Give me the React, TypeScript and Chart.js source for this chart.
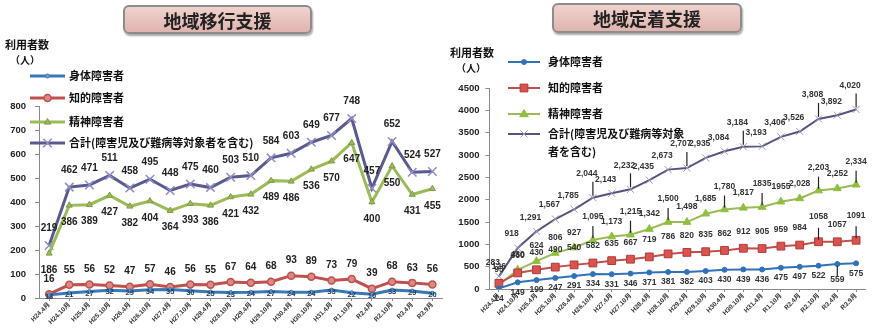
import React, { useEffect, useRef } from "react";
import { Chart, registerables } from "chart.js";

Chart.register(...registerables);

// ---------- DATA ----------
const LABELS = [
  "H24.4月", "H24.10月", "H25.4月", "H25.10月", "H26.4月", "H26.10月", "H27.4月", "H27.10月",
  "H28.4月", "H28.10月", "H29.4月", "H29.10月", "H30.4月", "H30.10月", "H31.4月", "R1.10月",
  "R2.4月", "R2.10月", "R3.4月", "R3.9月",
];

const SERIES_NAMES = ["身体障害者", "知的障害者", "精神障害者", "合計(障害児及び難病等対象者を含む)"];

// 地域移行支援
const IKOU_SHINTAI = [13, 21, 27, 32, 29, 34, 35, 30, 25, 23, 24, 27, 24, 24, 33, 22, 16, 33, 29, 20];
const IKOU_CHITEKI = [16, 55, 56, 52, 47, 57, 46, 56, 55, 67, 64, 68, 93, 89, 73, 79, 39, 68, 63, 56];
const IKOU_SEISHIN = [186, 386, 389, 427, 382, 404, 364, 393, 386, 421, 432, 489, 486, 536, 570, 647, 400, 550, 431, 455];
const IKOU_TOTAL = [219, 462, 471, 511, 458, 495, 448, 475, 460, 503, 510, 584, 603, 649, 677, 748, 457, 652, 524, 527];
const IKOU_TICKS = { min: 0, max: 800, step: 100 };

// 地域定着支援
const TEICHAKU_SHINTAI = [14, 149, 199, 247, 291, 334, 331, 346, 371, 381, 382, 403, 430, 439, 436, 475, 497, 522, 559, 575];
const TEICHAKU_CHITEKI = [126, 360, 430, 490, 540, 582, 635, 667, 719, 786, 820, 835, 862, 912, 905, 959, 984, 1058, 1057, 1091];
const TEICHAKU_SEISHIN = [95, 430, 624, 806, 927, 1095, 1173, 1215, 1342, 1500, 1498, 1685, 1780, 1817, 1835, 1955, 2028, 2203, 2252, 2334];
const TEICHAKU_TOTAL = [283, 918, 1291, 1567, 1785, 2044, 2143, 2232, 2435, 2673, 2707, 2935, 3084, 3184, 3193, 3406, 3526, 3808, 3892, 4020];
const TEICHAKU_TICKS = { min: 0, max: 4500, step: 500 };
const NO_COMMA_VALUES = [1835, 1955];

// indices of labels that have a leader (callout) line in 地域定着支援
const CALLOUT_TOTAL = [5, 7, 10, 13, 17, 19];
const CALLOUT_SEISHIN = [5, 7, 9, 12, 14, 17, 19];
const CALLOUT_CHITEKI = [17, 19];
const CALLOUT_SHINTAI = [18];

// ---------- HELPERS ----------
const CJK = "'Noto Sans CJK JP', 'Noto Sans', sans-serif";
const NUM = "'Liberation Sans', 'Noto Sans CJK JP', sans-serif";

const comma = (v: number) => (NO_COMMA_VALUES.includes(v) ? String(v) : v.toLocaleString("en-US"));

function drawMarker(ctx: CanvasRenderingContext2D, style: string, x: number, y: number, r: number, fill: string, stroke: string, lw: number) {
  ctx.save();
  ctx.fillStyle = fill;
  ctx.strokeStyle = stroke;
  ctx.lineWidth = lw;
  ctx.beginPath();
  if (style === "circle") {
    ctx.arc(x, y, r, 0, Math.PI * 2);
    ctx.fill();
    ctx.stroke();
  } else if (style === "rect") {
    const s = r * Math.SQRT1_2;
    ctx.rect(x - s, y - s, 2 * s, 2 * s);
    ctx.fill();
    ctx.stroke();
  } else if (style === "triangle") {
    ctx.moveTo(x, y - r);
    ctx.lineTo(x + r * 0.95, y + r * 0.6);
    ctx.lineTo(x - r * 0.95, y + r * 0.6);
    ctx.closePath();
    ctx.fill();
    ctx.stroke();
  } else if (style === "crossRot") {
    const s = r * Math.SQRT1_2;
    ctx.moveTo(x - s, y - s);
    ctx.lineTo(x + s, y + s);
    ctx.moveTo(x - s, y + s);
    ctx.lineTo(x + s, y - s);
    ctx.stroke();
  }
  ctx.restore();
}

const valueLabelPlugin = {
  id: "valueLabels",
  afterDatasetsDraw(chart: any) {
    const ctx = chart.ctx;
    chart.data.datasets.forEach((ds: any, di: number) => {
      const cfg = ds.valueLabel;
      if (!cfg) return;
      const meta = chart.getDatasetMeta(di);
      ctx.save();
      ctx.font = cfg.font;
      ctx.fillStyle = cfg.color;
      ctx.textAlign = "center";
      ctx.textBaseline = "middle";
      meta.data.forEach((pt: any, i: number) => {
        const v = ds.data[i];
        const txt = cfg.format ? cfg.format(v) : String(v);
        const callouts: number[] = cfg.callouts || [];
        if (callouts.includes(i)) {
          const dir = cfg.dy < 0 ? -1 : 1;
          const len = cfg.calloutLen || 12;
          ctx.save();
          ctx.strokeStyle = "#222";
          ctx.lineWidth = 1.2;
          ctx.beginPath();
          ctx.moveTo(pt.x, pt.y + dir * 2);
          ctx.lineTo(pt.x, pt.y + dir * (2 + len));
          ctx.stroke();
          ctx.restore();
          ctx.fillText(txt, pt.x + cfg.dx, pt.y + cfg.dy + dir * (len - 4));
        } else {
          ctx.fillText(txt, pt.x + cfg.dx, pt.y + cfg.dy);
        }
      });
      ctx.restore();
    });
  },
};

const legendPlugin = {
  id: "customLegend",
  afterDraw(chart: any, _args: any, opts: any) {
    if (!opts || !opts.items) return;
    const ctx = chart.ctx;
    chart.data.datasets.forEach((ds: any, i: number) => {
      const y = opts.ys[i];
      ctx.save();
      ctx.strokeStyle = ds.borderColor;
      ctx.lineWidth = ds.borderWidth;
      ctx.beginPath();
      ctx.moveTo(opts.x0, y);
      ctx.lineTo(opts.x1, y);
      ctx.stroke();
      ctx.restore();
      drawMarker(ctx, ds.pointStyle, (opts.x0 + opts.x1) / 2, y, ds.pointRadius, ds.pointBackgroundColor, ds.pointBorderColor, ds.pointBorderWidth);
      ctx.save();
      ctx.font = opts.font;
      ctx.fillStyle = opts.color;
      ctx.textAlign = "left";
      ctx.textBaseline = "middle";
      const lines: string[] = opts.items[i];
      lines.forEach((t, k) => ctx.fillText(t, opts.textX, y + k * opts.lineH));
      ctx.restore();
    });
  },
};

function makeConfig(p: any) {
  const mk = (name: string, data: number[], s: any) => ({
    label: name,
    data,
    borderColor: s.color,
    borderWidth: s.width,
    pointStyle: s.point,
    pointRadius: s.r,
    pointBackgroundColor: s.fill,
    pointBorderColor: s.stroke,
    pointBorderWidth: s.pw,
    tension: 0,
    valueLabel: s.label,
  });
  return {
    type: "line",
    data: {
      labels: LABELS,
      datasets: p.series.map((s: any, i: number) => mk(SERIES_NAMES[i], s.data, s)),
    },
    options: {
      responsive: false,
      animation: false,
      devicePixelRatio: 1,
      layout: { padding: { top: p.padTop, left: 0, right: p.padRight, bottom: 0 } },
      plugins: {
        legend: { display: false },
        tooltip: { enabled: false },
        title: { display: false },
        customLegend: p.legend,
      },
      scales: {
        x: {
          type: "category",
          offset: true,
          grid: { drawOnChartArea: false, drawTicks: true, tickLength: 3, color: "#8a8a8a" },
          border: { color: "#8a8a8a", width: 1 },
          ticks: {
            autoSkip: false,
            minRotation: 45,
            maxRotation: 45,
            padding: 0,
            color: "#333",
            font: { family: NUM, size: 6.5, weight: "bold" },
          },
          afterFit: (s: any) => {
            s.height = p.xHeight;
          },
        },
        y: {
          min: p.ticks.min,
          max: p.ticks.max,
          grid: { drawOnChartArea: false, drawTicks: true, tickLength: 4, color: "#8a8a8a" },
          border: { color: "#8a8a8a", width: 1 },
          ticks: {
            stepSize: p.ticks.step,
            padding: p.yPad,
            color: "#222",
            font: { family: NUM, size: p.yFont, weight: "bold" },
            callback: (v: any) => String(v),
          },
          afterFit: (s: any) => {
            s.width = p.yWidth;
          },
        },
      },
    },
    plugins: [valueLabelPlugin, legendPlugin],
  };
}

const leftLabelFont = `bold 10px ${NUM}`;
const rightLabelFont = `bold 8.5px ${NUM}`;

const IKOU_CONFIG = () =>
  makeConfig({
    padTop: 106,
    padRight: 5,
    xHeight: 31,
    yWidth: 39,
    yPad: 9,
    yFont: 9.5,
    ticks: IKOU_TICKS,
    series: [
      { data: IKOU_SHINTAI, color: "#3a78b5", width: 3, point: "circle", r: 2, fill: "#6a9fd0", stroke: "#3a78b5", pw: 1,
        label: { font: `bold 7.5px ${NUM}`, color: "#1f3f66", dx: 0, dy: 2 } },
      { data: IKOU_CHITEKI, color: "#c0504d", width: 3, point: "circle", r: 3.5, fill: "#d98a86", stroke: "#c0504d", pw: 1.5,
        label: { font: leftLabelFont, color: "#222", dx: 0, dy: -15 } },
      { data: IKOU_SEISHIN, color: "#9bbb59", width: 3, point: "triangle", r: 3.5, fill: "#9bbb59", stroke: "#7f9c43", pw: 1,
        label: { font: leftLabelFont, color: "#222", dx: 0, dy: 17 } },
      { data: IKOU_TOTAL, color: "#5b5a8f", width: 3, point: "crossRot", r: 6, fill: "#8d8cc4", stroke: "#8d8cc4", pw: 1.5,
        label: { font: leftLabelFont, color: "#222", dx: 0, dy: -17 } },
    ],
    legend: {
      x0: 30, x1: 65, textX: 69, ys: [76, 98, 122, 143], lineH: 18,
      font: `bold 11px ${CJK}`, color: "#111",
      items: [["身体障害者"], ["知的障害者"], ["精神障害者"], ["合計(障害児及び難病等対象者を含む)"]],
    },
  });

const TEICHAKU_CONFIG = () =>
  makeConfig({
    padTop: 88,
    padRight: 4.5,
    xHeight: 40,
    yWidth: 39.5,
    yPad: 6,
    yFont: 9.5,
    ticks: TEICHAKU_TICKS,
    series: [
      { data: TEICHAKU_SHINTAI, color: "#2f72b8", width: 2, point: "circle", r: 2.5, fill: "#2f72b8", stroke: "#2f72b8", pw: 1,
        label: { font: rightLabelFont, color: "#333", dx: 0, dy: 10, callouts: CALLOUT_SHINTAI, calloutLen: 10 } },
      { data: TEICHAKU_CHITEKI, color: "#c0504d", width: 2, point: "rect", r: 5.5, fill: "#d9534f", stroke: "#b03c39", pw: 1,
        label: { font: rightLabelFont, color: "#333", dx: 0, dy: -17, callouts: CALLOUT_CHITEKI, calloutLen: 12 } },
      { data: TEICHAKU_SEISHIN, color: "#9bbb59", width: 2, point: "triangle", r: 4.5, fill: "#8fbf3f", stroke: "#8fbf3f", pw: 1,
        label: { font: rightLabelFont, color: "#333", dx: 0, dy: -15, format: comma, callouts: CALLOUT_SEISHIN, calloutLen: 12 } },
      { data: TEICHAKU_TOTAL, color: "#55547e", width: 2, point: "crossRot", r: 5, fill: "#9a9ab8", stroke: "#9a9ab8", pw: 1,
        label: { font: rightLabelFont, color: "#333", dx: -6, dy: -14, format: comma, callouts: CALLOUT_TOTAL, calloutLen: 14 } },
    ],
    legend: {
      x0: 58, x1: 90, textX: 98, ys: [62, 88, 114, 134], lineH: 18,
      font: `bold 11px ${CJK}`, color: "#111",
      items: [["身体障害者"], ["知的障害者"], ["精神障害者"], ["合計(障害児及び難病等対象", "者を含む)"]],
    },
  });

function LineCanvas({ makeCfg, left, width }: { makeCfg: () => any; left: number; width: number }) {
  const ref = useRef<HTMLCanvasElement | null>(null);
  useEffect(() => {
    if (!ref.current) return;
    const chart = new Chart(ref.current, makeCfg() as any);
    return () => chart.destroy();
  }, []);
  return (
    <canvas
      ref={ref}
      width={width}
      height={329}
      style={{ position: "absolute", left, top: 0, width, height: 329 }}
    />
  );
}

const titleBox = (left: number, top: number, w: number, h: number): React.CSSProperties => ({
  position: "absolute",
  left,
  top,
  width: w,
  height: h,
  boxSizing: "border-box",
  border: "2px solid #8c8c8c",
  borderRadius: 6,
  background: "linear-gradient(#efd3ce, #e0b4ae)",
  boxShadow: "1px 2px 2px rgba(0,0,0,0.35)",
  display: "flex",
  alignItems: "center",
  justifyContent: "center",
  font: `bold 18px ${CJK}`,
  color: "#222",
  zIndex: 2,
});

const axisTitle = (left: number, top: number, size: number): React.CSSProperties => ({
  position: "absolute",
  left,
  top,
  font: `bold ${size}px ${CJK}`,
  color: "#111",
  lineHeight: 1,
  whiteSpace: "nowrap",
  zIndex: 2,
});

export default function App() {
  return (
    <div style={{ position: "fixed", left: 0, top: 0, width: 872, height: 329, background: "#fff", overflow: "hidden" }}>
      <LineCanvas makeCfg={IKOU_CONFIG} left={0} width={450} />
      <LineCanvas makeCfg={TEICHAKU_CONFIG} left={450} width={422} />
      <div style={titleBox(123, 5, 189, 29)}>地域移行支援</div>
      <div style={titleBox(552, 3, 190, 30)}>地域定着支援</div>
      <div style={axisTitle(5, 39, 11)}>利用者数</div>
      <div style={axisTitle(10, 55, 10)}>（人）</div>
      <div style={axisTitle(450, 47, 11)}>利用者数</div>
      <div style={axisTitle(456, 63, 10)}>（人）</div>
    </div>
  );
}
